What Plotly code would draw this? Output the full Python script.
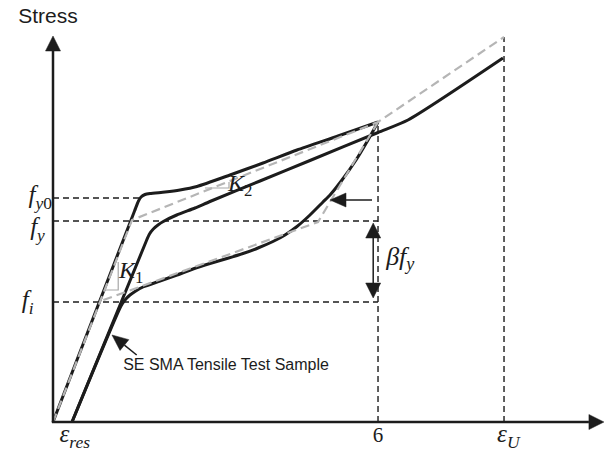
import math
import plotly.graph_objects as go

# ---- curve readings: strain (x) and stress (y) ----
load_strain = [0.0, 1.505, 1.578, 1.625, 1.698, 1.791, 2.068, 2.344, 2.658,
               3.268, 3.877, 4.504, 5.261, 6.0]
load_stress = [0, 422, 442, 450, 455, 457, 460, 464, 471, 494, 518, 544, 572, 600]

unload_strain = [6.0, 5.815, 5.594, 5.335, 5.114, 4.984, 4.744, 4.504, 4.283,
                 4.061, 3.784, 3.507, 3.212, 2.898, 2.584, 2.289, 1.975, 1.661,
                 1.514, 1.421, 1.329, 1.255, 0.351]
unload_stress = [600, 564, 524, 484, 454, 440, 414, 391, 374, 361, 348, 337,
                 327, 317, 306, 294, 282, 270, 261, 254, 244, 232, 0]

reload_strain = [0.351, 1.730, 1.781, 1.852, 1.938, 2.036, 2.284, 2.621, 2.898,
                 3.821, 4.744, 6.0, 6.553, 8.307]
reload_stress = [0, 364, 376, 386, 394, 401, 414, 428, 441, 482, 523, 579, 604, 728]

# idealised (bilinear flag-shape) model
model_load_strain = [0.0, 1.458, 6.0, 8.326]
model_load_stress = [0, 404, 600, 770]
model_unload_strain = [6.0, 4.892, 0.858]
model_unload_stress = [600, 400, 241]

# reference levels
f_y0 = 448
f_y = 402
f_i = 240
strain_res = 0.351
strain_peak = 6.0
strain_u = 8.326
stress_u = 770
stress_peak = 600

# slope markers
k1_strain = [0.96, 1.204, 1.204]
k1_stress = [264, 264, 320]
k2_strain = [2.806, 3.249, 3.249]
k2_stress = [468, 468, 480]

BLACK = "#1c1c1c"
GREY = "#b5b5b5"
MATH = "Liberation Serif"
SANS = "Liberation Sans"

W, H = 606, 451
X_RANGE = [-0.9784, 10.2086]
Y_RANGE = [-58, 844]
SX = W / (X_RANGE[1] - X_RANGE[0])   # px per strain unit
SY = H / (Y_RANGE[1] - Y_RANGE[0])   # px per stress unit

fig = go.Figure()


def line(xs, ys, color=BLACK, width=1.4, dash=None, spline=False):
    ln = dict(color=color, width=width)
    if dash:
        ln["dash"] = dash
    if spline:
        ln.update(shape="spline", smoothing=0.6)
    fig.add_trace(go.Scatter(x=xs, y=ys, mode="lines", hoverinfo="skip", line=ln))


# thin dashed guide lines
for xs, ys in (([0, 1.61], [f_y0, f_y0]),
               ([0, strain_peak], [f_y, f_y]),
               ([0, strain_peak], [f_i, f_i]),
               ([strain_peak, strain_peak], [0, stress_peak]),
               ([strain_u, strain_u], [0, stress_u])):
    line(xs, ys, width=1.4, dash="6px,4px")

# slope triangles
line(k1_strain, k1_stress, color="#a8a8a8", width=1.2)
line(k2_strain, k2_stress, color="#a8a8a8", width=1.2)

# test sample curves
line(load_strain, load_stress, width=3, spline=True)
line(reload_strain, reload_stress, width=3, spline=True)
line(unload_strain, unload_stress, width=3, spline=True)

# idealised model
line(model_load_strain, model_load_stress, color=GREY, width=2.2, dash="9px,5px")
line(model_unload_strain, model_unload_stress, color=GREY, width=2.2, dash="9px,5px")


def head(tx, ty, fx, fy, length, half):
    """Filled triangular arrow head at (tx, ty) pointing away from (fx, fy).
    Returns the data point of the head's base centre."""
    dx, dy = (tx - fx) * SX, (ty - fy) * SY
    n = math.hypot(dx, dy)
    ux, uy = dx / n, dy / n
    bx, by = -ux * length, -uy * length
    px, py = -uy * half, ux * half
    xs = [tx, tx + (bx + px) / SX, tx + (bx - px) / SX, tx]
    ys = [ty, ty + (by + py) / SY, ty + (by - py) / SY, ty]
    fig.add_trace(go.Scatter(x=xs, y=ys, mode="lines", fill="toself",
                             fillcolor=BLACK, hoverinfo="skip",
                             line=dict(color=BLACK, width=0.5)))
    return tx + bx / SX, ty + by / SY


def arrow(x, y, ax, ay, width, length, half, both=False):
    ex, ey = head(x, y, ax, ay, length, half)
    sx, sy = (head(ax, ay, x, y, length, half) if both else (ax, ay))
    line([sx, ex], [sy, ey], width=width)


# axes
arrow(0, 772, 0, -1, 2.5, 15, 7.5)
arrow(10.17, 0, -0.02, 0, 2.5, 15, 7.5)
# recovery arrow and beta*f_y span
arrow(5.114, 444, 5.889, 444, 1.5, 16, 7)
arrow(5.911, 398, 5.911, 248, 1.5, 15, 7.5, both=True)
# sample label pointer
arrow(1.089, 174, 1.545, 134, 1.5, 16, 7)


def label(x, y, text, size=24, family=MATH, pos="middle center"):
    fig.add_trace(go.Scatter(x=[x], y=[y], mode="text", text=[text],
                             textposition=pos, hoverinfo="skip", cliponaxis=False,
                             textfont=dict(family=family, size=size, color=BLACK)))


label(-0.092, 808, "Stress", size=21, family=SANS)
label(-0.02, f_y0 + 2, "<i>f</i><sub><i>y</i>0</sub>", size=25, pos="middle left")
label(-0.15, f_y - 16, "<i>f</i><sub><i>y</i></sub>", size=25, pos="middle left")
label(-0.36, f_i, "<i>f</i><sub><i>i</i></sub>", size=25, pos="middle left")
label(strain_res + 0.05, -28, "<i>ε</i><sub><i>res</i></sub>", size=25)
label(strain_peak, -30, "6", size=21)
label(strain_u + 0.08, -28, "<i>ε</i><sub><i>U</i></sub>", size=25)
label(6.15, 328, "<i>βf</i><sub><i>y</i></sub>", size=26, pos="middle right")
label(1.22, 300, "<i>K</i><sub>1</sub>", size=24, pos="middle right")
label(3.23, 474, "<i>K</i><sub>2</sub>", size=24, pos="middle right")
label(3.194, 112, "SE SMA Tensile Test Sample", size=16, family=SANS)

fig.update_layout(
    width=W, height=H,
    margin=dict(l=0, r=0, t=0, b=0),
    paper_bgcolor="white", plot_bgcolor="white",
    showlegend=False,
    xaxis=dict(range=X_RANGE, visible=False, fixedrange=True),
    yaxis=dict(range=Y_RANGE, visible=False, fixedrange=True),
)

fig.write_html("out.html")
